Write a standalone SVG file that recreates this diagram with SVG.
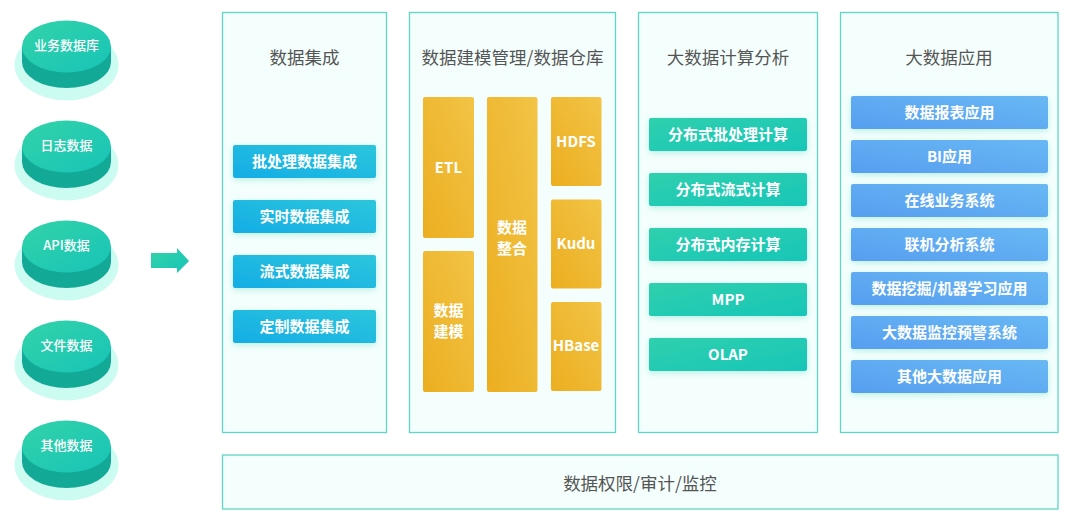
<svg xmlns="http://www.w3.org/2000/svg" width="1069" height="522" viewBox="0 0 1069 522">
<defs>
<linearGradient id="gCylTop" x1="0" y1="0" x2="1" y2="1"><stop offset="0" stop-color="#33d3a8"/><stop offset="1" stop-color="#17c4b8"/></linearGradient>
<linearGradient id="gArrow" x1="0" y1="0" x2="1" y2="1"><stop offset="0" stop-color="#33d3a8"/><stop offset="1" stop-color="#17c4b8"/></linearGradient>
<linearGradient id="gBlue" x1="0" y1="1" x2="1" y2="0"><stop offset="0" stop-color="#14ade6"/><stop offset="1" stop-color="#2cc6dc"/></linearGradient>
<linearGradient id="gGold" x1="0" y1="1" x2="1" y2="0"><stop offset="0" stop-color="#ecae20"/><stop offset="1" stop-color="#f2c446"/></linearGradient>
<linearGradient id="gTeal" x1="0" y1="0" x2="1" y2="1"><stop offset="0" stop-color="#30d0ad"/><stop offset="1" stop-color="#17c6b8"/></linearGradient>
<linearGradient id="gApp" x1="0" y1="1" x2="1" y2="0"><stop offset="0" stop-color="#579ef0"/><stop offset="1" stop-color="#68b8f4"/></linearGradient>
<filter id="glow" x="-20%" y="-40%" width="140%" height="180%"><feDropShadow dx="0" dy="2" stdDeviation="3" flood-color="#6fdcc8" flood-opacity="0.45"/></filter>
</defs>
<style>
.panel{fill:#f4fffd;stroke:#5fd6c4;stroke-width:1.3}
.title{font-family:"Noto Sans CJK SC","Noto Sans",sans-serif;font-size:17.5px;fill:#555;text-anchor:middle;dominant-baseline:central}
.btxt{font-family:"Noto Sans CJK SC","Noto Sans",sans-serif;font-size:15px;font-weight:bold;fill:#ffffff;text-anchor:middle;dominant-baseline:central}
.ctxt{font-family:"Noto Sans CJK SC","Noto Sans",sans-serif;font-size:13px;font-weight:500;fill:#ffffff;text-anchor:middle;dominant-baseline:central}
.blue{fill:url(#gBlue);filter:url(#glow)}
.gold{fill:url(#gGold)}
.teal{fill:url(#gTeal);filter:url(#glow)}
.app{fill:url(#gApp);filter:url(#glow)}
.glowE{fill:#ccfbf1}
.side{fill:#12aa97}
.top{fill:url(#gCylTop)}
</style>
<rect width="1069" height="522" fill="#ffffff"/>

<g id="src-db">
<ellipse class="glowE" cx="66.5" cy="65" rx="52" ry="35.5"/>
<path class="side" d="M22,46.5 V62 A44.5,26 0 0 0 111,62 V46.5 Z"/>
<ellipse class="top" cx="66.5" cy="46.5" rx="44.5" ry="26"/>
<text class="ctxt" x="66.5" y="44">业务数据库</text>
</g>
<g id="src-log">
<ellipse class="glowE" cx="66.5" cy="165" rx="52" ry="35.5"/>
<path class="side" d="M22,146.5 V162 A44.5,26 0 0 0 111,162 V146.5 Z"/>
<ellipse class="top" cx="66.5" cy="146.5" rx="44.5" ry="26"/>
<text class="ctxt" x="66.5" y="144">日志数据</text>
</g>
<g id="src-api">
<ellipse class="glowE" cx="66.5" cy="265" rx="52" ry="35.5"/>
<path class="side" d="M22,246.5 V262 A44.5,26 0 0 0 111,262 V246.5 Z"/>
<ellipse class="top" cx="66.5" cy="246.5" rx="44.5" ry="26"/>
<text class="ctxt" x="66.5" y="244">API数据</text>
</g>
<g id="src-file">
<ellipse class="glowE" cx="66.5" cy="365" rx="52" ry="35.5"/>
<path class="side" d="M22,346.5 V362 A44.5,26 0 0 0 111,362 V346.5 Z"/>
<ellipse class="top" cx="66.5" cy="346.5" rx="44.5" ry="26"/>
<text class="ctxt" x="66.5" y="344">文件数据</text>
</g>
<g id="src-other">
<ellipse class="glowE" cx="66.5" cy="465" rx="52" ry="35.5"/>
<path class="side" d="M22,446.5 V462 A44.5,26 0 0 0 111,462 V446.5 Z"/>
<ellipse class="top" cx="66.5" cy="446.5" rx="44.5" ry="26"/>
<text class="ctxt" x="66.5" y="444">其他数据</text>
</g>

<g id="connectors">
<polygon points="151,253 177,253 177,248 189,261 177,273 177,268 151,268" fill="url(#gArrow)"/>
</g>

<g id="panel-integration">
<rect class="panel" x="222.5" y="12.5" width="164" height="420"/>
<text class="title" x="304.5" y="56.5">数据集成</text>
<rect class="blue" x="233" y="145" width="143" height="33" rx="2"/>
<text class="btxt" x="304.5" y="160">批处理数据集成</text>
<rect class="blue" x="233" y="200" width="143" height="33" rx="2"/>
<text class="btxt" x="304.5" y="215">实时数据集成</text>
<rect class="blue" x="233" y="255" width="143" height="33" rx="2"/>
<text class="btxt" x="304.5" y="270">流式数据集成</text>
<rect class="blue" x="233" y="310" width="143" height="33" rx="2"/>
<text class="btxt" x="304.5" y="325">定制数据集成</text>
</g>

<g id="panel-warehouse">
<rect class="panel" x="409.5" y="12.5" width="206" height="420"/>
<text class="title" x="512.5" y="56.5">数据建模管理/数据仓库</text>
<rect class="gold" x="423" y="97" width="51" height="141" rx="2"/>
<text class="btxt" x="448.5" y="166.5">ETL</text>
<rect class="gold" x="423" y="251" width="51" height="141" rx="2"/>
<text class="btxt" x="448.5" y="309.5">数据</text>
<text class="btxt" x="448.5" y="330.5">建模</text>
<rect class="gold" x="487" y="97" width="50.5" height="295" rx="2"/>
<text class="btxt" x="512" y="226.5">数据</text>
<text class="btxt" x="512" y="247.5">整合</text>
<rect class="gold" x="551" y="97" width="50.5" height="89" rx="2"/>
<text class="btxt" x="576" y="140.5">HDFS</text>
<rect class="gold" x="551" y="199.5" width="50.5" height="89" rx="2"/>
<text class="btxt" x="576" y="242.5">Kudu</text>
<rect class="gold" x="551" y="302" width="50.5" height="89" rx="2"/>
<text class="btxt" x="576" y="344.5">HBase</text>
</g>

<g id="panel-compute">
<rect class="panel" x="638.5" y="12.5" width="179" height="420"/>
<text class="title" x="728" y="56.5">大数据计算分析</text>
<rect class="teal" x="649" y="118" width="158" height="33" rx="2"/>
<text class="btxt" x="728" y="133">分布式批处理计算</text>
<rect class="teal" x="649" y="173" width="158" height="33" rx="2"/>
<text class="btxt" x="728" y="188">分布式流式计算</text>
<rect class="teal" x="649" y="228" width="158" height="33" rx="2"/>
<text class="btxt" x="728" y="243">分布式内存计算</text>
<rect class="teal" x="649" y="283" width="158" height="33" rx="2"/>
<text class="btxt" x="728" y="298">MPP</text>
<rect class="teal" x="649" y="338" width="158" height="33" rx="2"/>
<text class="btxt" x="728" y="353">OLAP</text>
</g>

<g id="panel-apps">
<rect class="panel" x="840.5" y="12.5" width="217.5" height="420"/>
<text class="title" x="949" y="56.5">大数据应用</text>
<rect class="app" x="851" y="96" width="197" height="33" rx="2"/>
<text class="btxt" x="949.5" y="111">数据报表应用</text>
<rect class="app" x="851" y="140" width="197" height="33" rx="2"/>
<text class="btxt" x="949.5" y="155">BI应用</text>
<rect class="app" x="851" y="184" width="197" height="33" rx="2"/>
<text class="btxt" x="949.5" y="199">在线业务系统</text>
<rect class="app" x="851" y="228" width="197" height="33" rx="2"/>
<text class="btxt" x="949.5" y="243">联机分析系统</text>
<rect class="app" x="851" y="272" width="197" height="33" rx="2"/>
<text class="btxt" x="949.5" y="287">数据挖掘/机器学习应用</text>
<rect class="app" x="851" y="316" width="197" height="33" rx="2"/>
<text class="btxt" x="949.5" y="331">大数据监控预警系统</text>
<rect class="app" x="851" y="360" width="197" height="33" rx="2"/>
<text class="btxt" x="949.5" y="375">其他大数据应用</text>
</g>

<g id="panel-security">
<rect class="panel" x="222.5" y="455" width="835.5" height="54"/>
<text class="title" x="640" y="482">数据权限/审计/监控</text>
</g>
</svg>
